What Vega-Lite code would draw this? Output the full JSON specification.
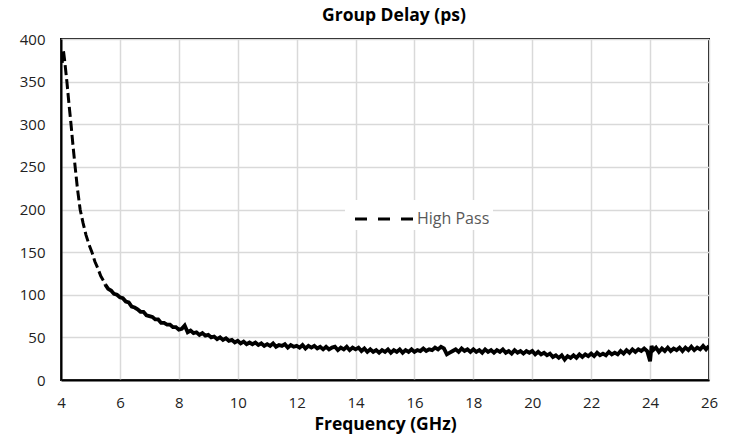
{
  "$schema": "https://vega.github.io/schema/vega-lite/v6.json",
  "width": 648,
  "height": 341,
  "autosize": {"type": "none"},
  "padding": {"left": 61, "top": 39, "right": 29, "bottom": 62},
  "background": "white",
  "title": {"text": "Group Delay (ps)", "font": "Open Sans", "fontSize": 17.5, "fontWeight": "bold", "color": "#000", "offset": 8, "dx": 9},
  "config": {
    "view": {"stroke": "#000", "strokeWidth": 2},
    "axis": {
      "labelFont": "Open Sans", "labelFontSize": 15, "labelColor": "#222", "labelFlush": false,
      "titleFont": "Open Sans", "titleFontSize": 17.5, "titleFontWeight": "bold", "titleColor": "#000",
      "gridColor": "#d9d9d9", "gridWidth": 1.5, "ticks": false,
      "domainColor": "#000", "domainWidth": 2
    }
  },
  "data": {"values": [
    {"f": 4.04, "v": 372, "s": "High Pass"},
    {"f": 4.08, "v": 387, "s": "High Pass"},
    {"f": 4.12, "v": 376, "s": "High Pass"},
    {"f": 4.2, "v": 350, "s": "High Pass"},
    {"f": 4.27, "v": 324, "s": "High Pass"},
    {"f": 4.34, "v": 300, "s": "High Pass"},
    {"f": 4.41, "v": 274, "s": "High Pass"},
    {"f": 4.48, "v": 250, "s": "High Pass"},
    {"f": 4.56, "v": 224, "s": "High Pass"},
    {"f": 4.65, "v": 200, "s": "High Pass"},
    {"f": 4.75, "v": 184, "s": "High Pass"},
    {"f": 4.85, "v": 170, "s": "High Pass"},
    {"f": 4.95, "v": 159, "s": "High Pass"},
    {"f": 5.05, "v": 150, "s": "High Pass"},
    {"f": 5.15, "v": 139, "s": "High Pass"},
    {"f": 5.25, "v": 131, "s": "High Pass"},
    {"f": 5.35, "v": 122, "s": "High Pass"},
    {"f": 5.45, "v": 116, "s": "High Pass"},
    {"f": 5.5, "v": 112, "s": "High Pass"},
    {"f": 5.6, "v": 107, "s": "High Pass"},
    {"f": 5.7, "v": 105, "s": "High Pass"},
    {"f": 5.8, "v": 101, "s": "High Pass"},
    {"f": 5.9, "v": 100, "s": "High Pass"},
    {"f": 6.0, "v": 97, "s": "High Pass"},
    {"f": 6.1, "v": 96, "s": "High Pass"},
    {"f": 6.2, "v": 92, "s": "High Pass"},
    {"f": 6.3, "v": 91, "s": "High Pass"},
    {"f": 6.4, "v": 86, "s": "High Pass"},
    {"f": 6.5, "v": 85, "s": "High Pass"},
    {"f": 6.6, "v": 83, "s": "High Pass"},
    {"f": 6.7, "v": 80, "s": "High Pass"},
    {"f": 6.8, "v": 80, "s": "High Pass"},
    {"f": 6.9, "v": 76, "s": "High Pass"},
    {"f": 7.0, "v": 75, "s": "High Pass"},
    {"f": 7.1, "v": 74, "s": "High Pass"},
    {"f": 7.2, "v": 71, "s": "High Pass"},
    {"f": 7.3, "v": 71, "s": "High Pass"},
    {"f": 7.4, "v": 67, "s": "High Pass"},
    {"f": 7.5, "v": 67, "s": "High Pass"},
    {"f": 7.6, "v": 65, "s": "High Pass"},
    {"f": 7.7, "v": 65, "s": "High Pass"},
    {"f": 7.8, "v": 62, "s": "High Pass"},
    {"f": 7.9, "v": 62, "s": "High Pass"},
    {"f": 8.0, "v": 59, "s": "High Pass"},
    {"f": 8.1, "v": 60, "s": "High Pass"},
    {"f": 8.2, "v": 64, "s": "High Pass"},
    {"f": 8.3, "v": 56, "s": "High Pass"},
    {"f": 8.4, "v": 58, "s": "High Pass"},
    {"f": 8.5, "v": 55, "s": "High Pass"},
    {"f": 8.6, "v": 56, "s": "High Pass"},
    {"f": 8.7, "v": 53, "s": "High Pass"},
    {"f": 8.8, "v": 55, "s": "High Pass"},
    {"f": 8.9, "v": 52, "s": "High Pass"},
    {"f": 9.0, "v": 53, "s": "High Pass"},
    {"f": 9.1, "v": 50, "s": "High Pass"},
    {"f": 9.2, "v": 51, "s": "High Pass"},
    {"f": 9.3, "v": 48, "s": "High Pass"},
    {"f": 9.4, "v": 50, "s": "High Pass"},
    {"f": 9.5, "v": 47, "s": "High Pass"},
    {"f": 9.6, "v": 49, "s": "High Pass"},
    {"f": 9.7, "v": 46, "s": "High Pass"},
    {"f": 9.8, "v": 47, "s": "High Pass"},
    {"f": 9.9, "v": 44, "s": "High Pass"},
    {"f": 10.0, "v": 46, "s": "High Pass"},
    {"f": 10.1, "v": 43, "s": "High Pass"},
    {"f": 10.2, "v": 45, "s": "High Pass"},
    {"f": 10.3, "v": 42, "s": "High Pass"},
    {"f": 10.4, "v": 44, "s": "High Pass"},
    {"f": 10.5, "v": 42, "s": "High Pass"},
    {"f": 10.6, "v": 44, "s": "High Pass"},
    {"f": 10.7, "v": 41, "s": "High Pass"},
    {"f": 10.8, "v": 43, "s": "High Pass"},
    {"f": 10.9, "v": 40, "s": "High Pass"},
    {"f": 11.0, "v": 42, "s": "High Pass"},
    {"f": 11.1, "v": 40, "s": "High Pass"},
    {"f": 11.2, "v": 43, "s": "High Pass"},
    {"f": 11.3, "v": 39, "s": "High Pass"},
    {"f": 11.4, "v": 41, "s": "High Pass"},
    {"f": 11.5, "v": 40, "s": "High Pass"},
    {"f": 11.6, "v": 42, "s": "High Pass"},
    {"f": 11.7, "v": 38, "s": "High Pass"},
    {"f": 11.8, "v": 41, "s": "High Pass"},
    {"f": 11.9, "v": 39, "s": "High Pass"},
    {"f": 12.0, "v": 40, "s": "High Pass"},
    {"f": 12.1, "v": 38, "s": "High Pass"},
    {"f": 12.2, "v": 41, "s": "High Pass"},
    {"f": 12.3, "v": 37, "s": "High Pass"},
    {"f": 12.4, "v": 40, "s": "High Pass"},
    {"f": 12.5, "v": 38, "s": "High Pass"},
    {"f": 12.6, "v": 40, "s": "High Pass"},
    {"f": 12.7, "v": 37, "s": "High Pass"},
    {"f": 12.8, "v": 39, "s": "High Pass"},
    {"f": 12.9, "v": 36, "s": "High Pass"},
    {"f": 13.0, "v": 39, "s": "High Pass"},
    {"f": 13.1, "v": 36, "s": "High Pass"},
    {"f": 13.2, "v": 38, "s": "High Pass"},
    {"f": 13.3, "v": 39, "s": "High Pass"},
    {"f": 13.4, "v": 35, "s": "High Pass"},
    {"f": 13.5, "v": 38, "s": "High Pass"},
    {"f": 13.6, "v": 36, "s": "High Pass"},
    {"f": 13.7, "v": 39, "s": "High Pass"},
    {"f": 13.8, "v": 35, "s": "High Pass"},
    {"f": 13.9, "v": 38, "s": "High Pass"},
    {"f": 14.0, "v": 36, "s": "High Pass"},
    {"f": 14.1, "v": 38, "s": "High Pass"},
    {"f": 14.2, "v": 34, "s": "High Pass"},
    {"f": 14.3, "v": 37, "s": "High Pass"},
    {"f": 14.4, "v": 33, "s": "High Pass"},
    {"f": 14.5, "v": 36, "s": "High Pass"},
    {"f": 14.6, "v": 33, "s": "High Pass"},
    {"f": 14.7, "v": 35, "s": "High Pass"},
    {"f": 14.8, "v": 32, "s": "High Pass"},
    {"f": 14.9, "v": 35, "s": "High Pass"},
    {"f": 15.0, "v": 33, "s": "High Pass"},
    {"f": 15.1, "v": 36, "s": "High Pass"},
    {"f": 15.2, "v": 32, "s": "High Pass"},
    {"f": 15.3, "v": 35, "s": "High Pass"},
    {"f": 15.4, "v": 33, "s": "High Pass"},
    {"f": 15.5, "v": 36, "s": "High Pass"},
    {"f": 15.6, "v": 32, "s": "High Pass"},
    {"f": 15.7, "v": 35, "s": "High Pass"},
    {"f": 15.8, "v": 33, "s": "High Pass"},
    {"f": 15.9, "v": 36, "s": "High Pass"},
    {"f": 16.0, "v": 33, "s": "High Pass"},
    {"f": 16.1, "v": 35, "s": "High Pass"},
    {"f": 16.2, "v": 34, "s": "High Pass"},
    {"f": 16.3, "v": 37, "s": "High Pass"},
    {"f": 16.4, "v": 34, "s": "High Pass"},
    {"f": 16.5, "v": 36, "s": "High Pass"},
    {"f": 16.6, "v": 35, "s": "High Pass"},
    {"f": 16.7, "v": 38, "s": "High Pass"},
    {"f": 16.8, "v": 36, "s": "High Pass"},
    {"f": 16.9, "v": 39, "s": "High Pass"},
    {"f": 17.0, "v": 37, "s": "High Pass"},
    {"f": 17.1, "v": 30, "s": "High Pass"},
    {"f": 17.2, "v": 32, "s": "High Pass"},
    {"f": 17.3, "v": 34, "s": "High Pass"},
    {"f": 17.4, "v": 36, "s": "High Pass"},
    {"f": 17.5, "v": 33, "s": "High Pass"},
    {"f": 17.6, "v": 37, "s": "High Pass"},
    {"f": 17.7, "v": 34, "s": "High Pass"},
    {"f": 17.8, "v": 36, "s": "High Pass"},
    {"f": 17.9, "v": 33, "s": "High Pass"},
    {"f": 18.0, "v": 36, "s": "High Pass"},
    {"f": 18.1, "v": 33, "s": "High Pass"},
    {"f": 18.2, "v": 35, "s": "High Pass"},
    {"f": 18.3, "v": 32, "s": "High Pass"},
    {"f": 18.4, "v": 36, "s": "High Pass"},
    {"f": 18.5, "v": 33, "s": "High Pass"},
    {"f": 18.6, "v": 35, "s": "High Pass"},
    {"f": 18.7, "v": 32, "s": "High Pass"},
    {"f": 18.8, "v": 35, "s": "High Pass"},
    {"f": 18.9, "v": 33, "s": "High Pass"},
    {"f": 19.0, "v": 36, "s": "High Pass"},
    {"f": 19.1, "v": 32, "s": "High Pass"},
    {"f": 19.2, "v": 34, "s": "High Pass"},
    {"f": 19.3, "v": 31, "s": "High Pass"},
    {"f": 19.4, "v": 35, "s": "High Pass"},
    {"f": 19.5, "v": 32, "s": "High Pass"},
    {"f": 19.6, "v": 34, "s": "High Pass"},
    {"f": 19.7, "v": 31, "s": "High Pass"},
    {"f": 19.8, "v": 34, "s": "High Pass"},
    {"f": 19.9, "v": 32, "s": "High Pass"},
    {"f": 20.0, "v": 34, "s": "High Pass"},
    {"f": 20.1, "v": 30, "s": "High Pass"},
    {"f": 20.2, "v": 33, "s": "High Pass"},
    {"f": 20.3, "v": 30, "s": "High Pass"},
    {"f": 20.4, "v": 32, "s": "High Pass"},
    {"f": 20.5, "v": 29, "s": "High Pass"},
    {"f": 20.6, "v": 31, "s": "High Pass"},
    {"f": 20.7, "v": 27, "s": "High Pass"},
    {"f": 20.8, "v": 29, "s": "High Pass"},
    {"f": 20.9, "v": 26, "s": "High Pass"},
    {"f": 21.0, "v": 29, "s": "High Pass"},
    {"f": 21.1, "v": 24, "s": "High Pass"},
    {"f": 21.2, "v": 28, "s": "High Pass"},
    {"f": 21.3, "v": 26, "s": "High Pass"},
    {"f": 21.4, "v": 29, "s": "High Pass"},
    {"f": 21.5, "v": 26, "s": "High Pass"},
    {"f": 21.6, "v": 30, "s": "High Pass"},
    {"f": 21.7, "v": 27, "s": "High Pass"},
    {"f": 21.8, "v": 30, "s": "High Pass"},
    {"f": 21.9, "v": 28, "s": "High Pass"},
    {"f": 22.0, "v": 31, "s": "High Pass"},
    {"f": 22.1, "v": 28, "s": "High Pass"},
    {"f": 22.2, "v": 32, "s": "High Pass"},
    {"f": 22.3, "v": 29, "s": "High Pass"},
    {"f": 22.4, "v": 31, "s": "High Pass"},
    {"f": 22.5, "v": 29, "s": "High Pass"},
    {"f": 22.6, "v": 33, "s": "High Pass"},
    {"f": 22.7, "v": 30, "s": "High Pass"},
    {"f": 22.8, "v": 32, "s": "High Pass"},
    {"f": 22.9, "v": 30, "s": "High Pass"},
    {"f": 23.0, "v": 34, "s": "High Pass"},
    {"f": 23.1, "v": 31, "s": "High Pass"},
    {"f": 23.2, "v": 35, "s": "High Pass"},
    {"f": 23.3, "v": 32, "s": "High Pass"},
    {"f": 23.4, "v": 36, "s": "High Pass"},
    {"f": 23.5, "v": 33, "s": "High Pass"},
    {"f": 23.6, "v": 36, "s": "High Pass"},
    {"f": 23.7, "v": 34, "s": "High Pass"},
    {"f": 23.8, "v": 37, "s": "High Pass"},
    {"f": 23.9, "v": 34, "s": "High Pass"},
    {"f": 24.0, "v": 22, "s": "High Pass"},
    {"f": 24.05, "v": 40, "s": "High Pass"},
    {"f": 24.1, "v": 35, "s": "High Pass"},
    {"f": 24.2, "v": 38, "s": "High Pass"},
    {"f": 24.3, "v": 33, "s": "High Pass"},
    {"f": 24.4, "v": 37, "s": "High Pass"},
    {"f": 24.5, "v": 34, "s": "High Pass"},
    {"f": 24.6, "v": 38, "s": "High Pass"},
    {"f": 24.7, "v": 34, "s": "High Pass"},
    {"f": 24.8, "v": 37, "s": "High Pass"},
    {"f": 24.9, "v": 35, "s": "High Pass"},
    {"f": 25.0, "v": 38, "s": "High Pass"},
    {"f": 25.1, "v": 34, "s": "High Pass"},
    {"f": 25.2, "v": 38, "s": "High Pass"},
    {"f": 25.3, "v": 35, "s": "High Pass"},
    {"f": 25.4, "v": 39, "s": "High Pass"},
    {"f": 25.5, "v": 35, "s": "High Pass"},
    {"f": 25.6, "v": 38, "s": "High Pass"},
    {"f": 25.7, "v": 36, "s": "High Pass"},
    {"f": 25.8, "v": 40, "s": "High Pass"},
    {"f": 25.9, "v": 36, "s": "High Pass"},
    {"f": 26.0, "v": 40, "s": "High Pass"}
  ]},
  "encoding": {
    "x": {"field": "f", "type": "quantitative", "scale": {"domain": [4, 26], "nice": false},
          "axis": {"values": [4, 6, 8, 10, 12, 14, 16, 18, 20, 22, 24, 26], "title": "Frequency (GHz)", "labelPadding": 15, "titlePadding": 5}},
    "y": {"field": "v", "type": "quantitative", "scale": {"domain": [0, 400], "nice": false},
          "axis": {"values": [0, 50, 100, 150, 200, 250, 300, 350, 400], "title": null, "labelPadding": 16}},
    "color": {"field": "s", "type": "nominal", "scale": {"range": ["#000000"]},
      "legend": {"title": null, "orient": "none", "legendX": 284, "legendY": 161, "fillColor": "white", "padding": 3,
                 "symbolType": "M-2,0H2", "symbolSize": 841, "symbolStrokeWidth": 3, "symbolDash": [12, 11], "symbolOffset": 20,
                 "labelFont": "Open Sans", "labelFontSize": 16, "labelColor": "#595959", "labelOffset": 17}}
  },
  "layer": [
    {"transform": [{"filter": {"field": "f", "lte": 5.5}}],
     "mark": {"type": "line", "strokeWidth": 3, "strokeDash": [10, 4], "clip": true}},
    {"transform": [{"filter": {"field": "f", "gte": 5.5}}],
     "mark": {"type": "line", "strokeWidth": 3.8, "clip": true}}
  ]
}
